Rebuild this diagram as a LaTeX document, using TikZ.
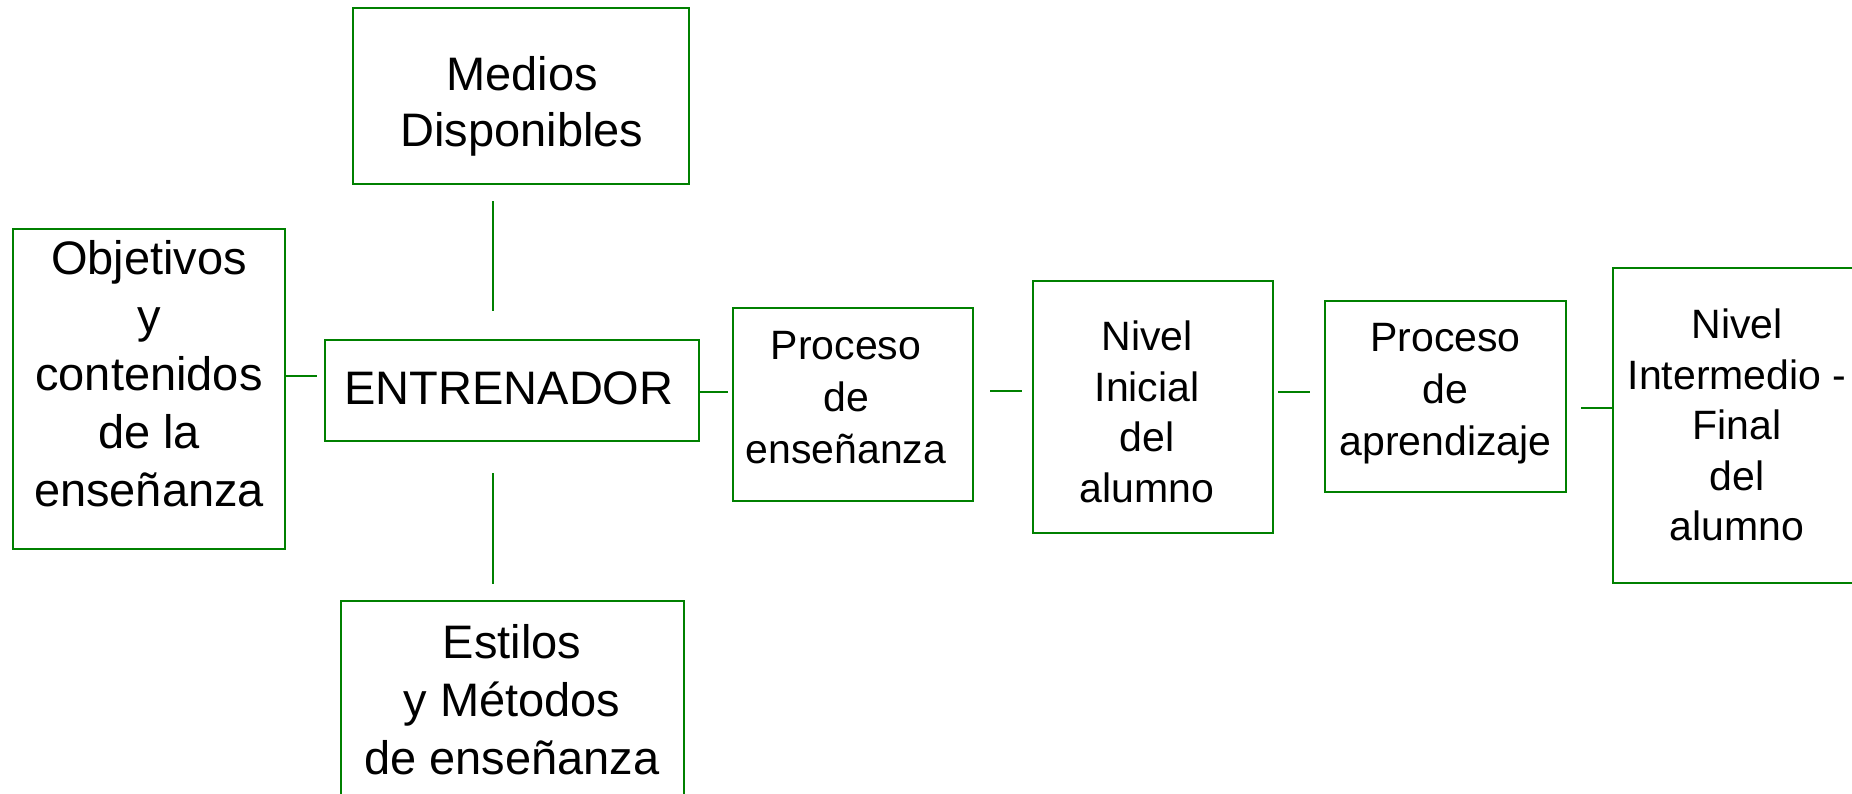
\documentclass[tikz,border=0pt]{standalone}
\usepackage{fontspec}
\setmainfont{Liberation Sans}
\definecolor{lg}{RGB}{0,128,0}
\begin{document}
\begin{tikzpicture}[x=1pt,y=-1pt,
  box/.style={draw=lg, line width=2pt, rectangle, inner sep=0pt},
  conn/.style={draw=lg, line width=2pt},
  bigtxt/.style={align=center, inner sep=0pt, text depth=0pt, font=\fontsize{47}{57}\selectfont},
  smalltxt/.style={align=center, inner sep=0pt, text depth=0pt, font=\fontsize{41}{50.5}\selectfont}]
\useasboundingbox (0,0) rectangle (1852,793);
\fill[white] (0,0) rectangle (1852,793);

% boxes
\node[box, minimum width=336pt, minimum height=176pt] (b1) at (521,96) {};
\node[box, minimum width=272pt, minimum height=320pt] (b2) at (149,389) {};
\node[box, minimum width=374pt, minimum height=101pt] (b3) at (512,390.5) {};
\node[box, minimum width=343pt, minimum height=199pt] (b4) at (512.5,700.5) {};
\node[box, minimum width=240pt, minimum height=193pt] (b5) at (853,404.5) {};
\node[box, minimum width=240pt, minimum height=252pt] (b6) at (1153,407) {};
\node[box, minimum width=241pt, minimum height=191pt] (b7) at (1445.5,396.5) {};
\node[box, minimum width=267pt, minimum height=315pt] (b8) at (1746.5,425.5) {};

% texts
\node[bigtxt, font=\fontsize{47}{56}\selectfont] (t1) at (522,101) {Medios\\Disponibles};
\node[bigtxt, font=\fontsize{47}{58}\selectfont] (t2) at (149,373) {Objetivos\\y\\contenidos\\de la\\enseñanza};
\node[bigtxt] (t3) at (509,388) {ENTRENADOR};
\node[bigtxt, font=\fontsize{47}{58}\selectfont] (t4) at (512,699) {Estilos\\y Métodos\\de enseñanza};
\node[smalltxt, font=\fontsize{41}{52}\selectfont] (t5) at (846,397) {Proceso\\de\\enseñanza};
\node[smalltxt] (t6) at (1147,411.5) {Nivel\\Inicial\\del\\alumno};
\node[smalltxt, font=\fontsize{41}{52}\selectfont] (t7) at (1445.5,389) {Proceso\\de\\aprendizaje};
\node[smalltxt] (t8) at (1737,425) {Nivel\\Intermedio -\\Final\\del\\alumno};

% connectors
\coordinate (vx) at (493,0);
\draw[conn, shorten <=16pt, shorten >=28pt] (b1.south -| vx) -- (b3.north -| vx);
\draw[conn, shorten <=31pt, shorten >=16pt] (b3.south -| vx) -- (b4.north -| vx);
\coordinate (y1) at (0,376);
\draw[conn, shorten >=7pt] (b2.east |- y1) -- (b3.west |- y1);
\coordinate (y2) at (0,392);
\draw[conn, shorten <=-2pt, shorten >=4pt] (b3.east |- y2) -- (b5.west |- y2);
\coordinate (y3) at (0,391);
\draw[conn, shorten <=16pt, shorten >=10pt] (b5.east |- y3) -- (b6.west |- y3);
\draw[conn, shorten <=4pt, shorten >=14pt] (b6.east |- y2) -- (b7.west |- y2);
\coordinate (y5) at (0,408);
\draw[conn, shorten <=14pt] (b7.east |- y5) -- (b8.west |- y5);
\end{tikzpicture}
\end{document}
